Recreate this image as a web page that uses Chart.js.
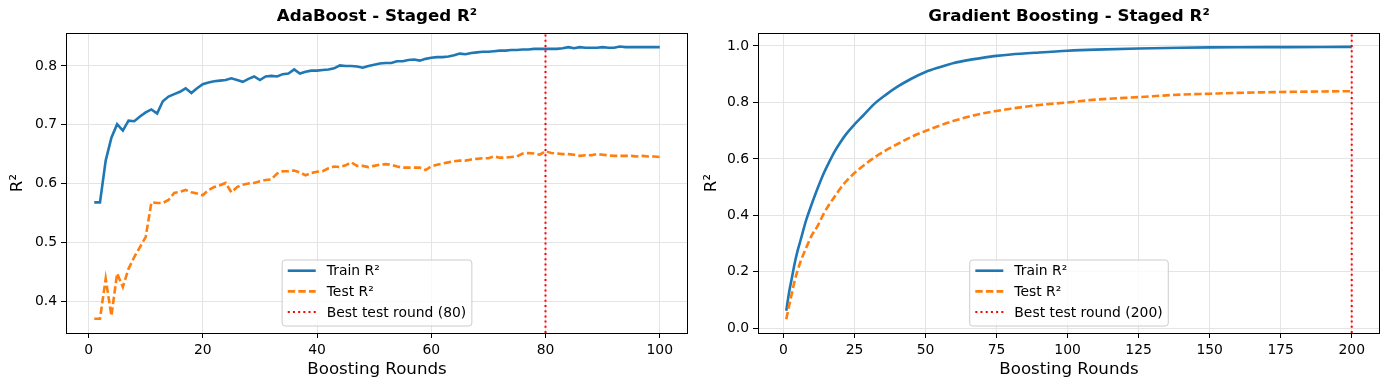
<!DOCTYPE html>
<html>
<head>
<meta charset="utf-8">
<script src="https://cdn.jsdelivr.net/npm/chart.js@4.4.1/dist/chart.umd.min.js"></script>
<style>
  body { margin: 0; background: #fff; }
  canvas { position: absolute; top: 0; }
  #ada { left: 0; }
  #gb { left: 694px; }
</style>
</head>
<body>
<canvas id="ada" width="694" height="390"></canvas>
<canvas id="gb" width="695" height="390"></canvas>
<script>
// AdaBoost staged scores, one per boosting round
const adaRounds = Array.from({ length: 100 }, (_, i) => i + 1)
const adaTrain = [
  0.568, 0.568, 0.639, 0.678, 0.701, 0.690, 0.707, 0.706, 0.714, 0.721,
  0.726, 0.719, 0.740, 0.748, 0.752, 0.756, 0.762, 0.754, 0.762, 0.769,
  0.772, 0.774, 0.775, 0.776, 0.779, 0.776, 0.773, 0.778, 0.782, 0.776,
  0.782, 0.783, 0.782, 0.786, 0.787, 0.794, 0.787, 0.790, 0.792, 0.792,
  0.793, 0.794, 0.796, 0.801, 0.800, 0.800, 0.799, 0.797, 0.800, 0.802,
  0.804, 0.805, 0.805, 0.808, 0.808, 0.810, 0.811, 0.809, 0.812, 0.814,
  0.815, 0.815, 0.816, 0.818, 0.821, 0.820, 0.822, 0.823, 0.824, 0.824,
  0.825, 0.826, 0.826, 0.827, 0.827, 0.828, 0.828, 0.829, 0.829, 0.829,
  0.829, 0.829, 0.830, 0.832, 0.830, 0.832, 0.831, 0.831, 0.831, 0.832,
  0.831, 0.831, 0.833, 0.832, 0.832, 0.832, 0.832, 0.832, 0.832, 0.832
]
const adaTest = [
  0.370, 0.370, 0.438, 0.375, 0.447, 0.424, 0.455, 0.475, 0.492, 0.509,
  0.568, 0.567, 0.567, 0.572, 0.584, 0.586, 0.589, 0.585, 0.583, 0.580,
  0.589, 0.594, 0.597, 0.601, 0.585, 0.594, 0.598, 0.600, 0.601, 0.604,
  0.606, 0.607, 0.617, 0.621, 0.621, 0.622, 0.619, 0.614, 0.618, 0.620,
  0.621, 0.626, 0.629, 0.628, 0.631, 0.636, 0.630, 0.630, 0.628, 0.630,
  0.632, 0.633, 0.632, 0.629, 0.627, 0.627, 0.627, 0.627, 0.623, 0.629,
  0.632, 0.634, 0.636, 0.638, 0.639, 0.639, 0.641, 0.642, 0.643, 0.643,
  0.646, 0.644, 0.644, 0.645, 0.646, 0.651, 0.652, 0.651, 0.649, 0.655,
  0.652, 0.651, 0.650, 0.650, 0.649, 0.647, 0.648, 0.648, 0.650, 0.649,
  0.648, 0.647, 0.647, 0.647, 0.647, 0.646, 0.647, 0.646, 0.646, 0.645
]
const adaBest = 80
const adaXTicks = [0, 20, 40, 60, 80, 100]
const adaYTicks = [0.4, 0.5, 0.6, 0.7, 0.8]
const adaXRange = [-3.95, 104.95]
const adaYRange = [0.3458, 0.856]

// Gradient boosting staged scores, read at selected rounds
const gbRounds = [1, 2, 3, 4, 5, 6, 8, 10, 12, 14, 16, 18, 20, 22, 25, 28, 32, 36, 40, 45,
  50, 55, 60, 65, 70, 75, 80, 90, 100, 110, 125, 140, 150, 160, 175, 190, 200]
const gbTrain = [0.062, 0.128, 0.180, 0.232, 0.275, 0.311, 0.383, 0.441, 0.495, 0.545,
  0.587, 0.626, 0.658, 0.687, 0.722, 0.753, 0.795, 0.827, 0.855, 0.884,
  0.908, 0.925, 0.940, 0.950, 0.958, 0.965, 0.970, 0.977, 0.983, 0.987,
  0.991, 0.994, 0.995, 0.9955, 0.996, 0.9965, 0.997]
const gbTest = [0.032, 0.080, 0.125, 0.170, 0.205, 0.236, 0.285, 0.330, 0.362, 0.403,
  0.437, 0.466, 0.495, 0.520, 0.550, 0.575, 0.605, 0.630, 0.652, 0.678,
  0.699, 0.718, 0.735, 0.749, 0.761, 0.770, 0.778, 0.791, 0.800, 0.810,
  0.819, 0.828, 0.831, 0.834, 0.837, 0.839, 0.840]
const gbBest = 200
const gbXTicks = [0, 25, 50, 75, 100, 125, 150, 175, 200]
const gbYTicks = [0.0, 0.2, 0.4, 0.6, 0.8, 1.0]
const gbXRange = [-8.95, 209.95]
const gbYRange = [-0.0166, 1.046]

const blue = '#1f77b4'
const orange = '#ff7f0e'
const red = '#ff0000'
const font = 'DejaVu Sans'

Chart.defaults.font.family = font
Chart.defaults.color = '#000'

// black frame round the plot area and a matplotlib style legend inside it
const boxLegend = {
  id: 'boxLegend',
  afterDraw(chart) {
    const { ctx, chartArea: a } = chart
    ctx.save()
    ctx.setLineDash([])
    ctx.strokeStyle = '#000'
    ctx.lineWidth = 1
    ctx.strokeRect(Math.round(a.left) + 0.5, Math.round(a.top) + 0.5,
      Math.round(a.right - a.left) - 1, Math.round(a.bottom - a.top))

    const sets = chart.data.datasets
    ctx.font = `13.9px "${font}"`
    let textW = 0
    for (const ds of sets) textW = Math.max(textW, ctx.measureText(ds.label).width)
    const pad = 5.6, handle = 28, gap = 11, rowH = 20.7
    const w = pad + handle + gap + textW + pad
    const h = 66
    const x0 = (a.left + a.right) / 2 - w / 2
    const y0 = a.bottom - 7 - h
    ctx.fillStyle = 'rgba(255,255,255,0.8)'
    ctx.strokeStyle = '#cccccc'
    ctx.beginPath()
    ctx.roundRect(x0, y0, w, h, 3)
    ctx.fill()
    ctx.stroke()
    sets.forEach((ds, i) => {
      const cy = y0 + 10.7 + i * rowH
      ctx.strokeStyle = ds.borderColor
      ctx.lineWidth = ds.borderWidth
      ctx.setLineDash(ds.borderDash || [])
      ctx.beginPath()
      ctx.moveTo(x0 + pad, cy)
      ctx.lineTo(x0 + pad + handle, cy)
      ctx.stroke()
      ctx.setLineDash([])
      ctx.fillStyle = '#000'
      ctx.textBaseline = 'middle'
      ctx.fillText(ds.label, x0 + pad + handle + gap, cy + 1)
    })
    ctx.restore()
  }
}

function pairs(xs, ys) {
  return xs.map((x, i) => ({ x: x, y: ys[i] }))
}

function stagedChart(id, o) {
  const ctx = document.getElementById(id).getContext('2d')
  return new Chart(ctx, {
    type: 'line',
    data: {
      datasets: [
        { label: 'Train R²', data: pairs(o.rounds, o.train), borderColor: blue, borderWidth: 2.6, order: 3,
          cubicInterpolationMode: o.smooth ? 'monotone' : 'default' },
        { label: 'Test R²', data: pairs(o.rounds, o.test), borderColor: orange, borderWidth: 2.6, borderDash: [7.4, 3.2], order: 2,
          cubicInterpolationMode: o.smooth ? 'monotone' : 'default' },
        { label: `Best test round (${o.best})`, data: [{ x: o.best, y: o.yRange[0] }, { x: o.best, y: o.yRange[1] }],
          borderColor: red, borderWidth: 2, borderDash: [2, 3.2], order: 1 }
      ]
    },
    options: {
      responsive: false,
      animation: false,
      devicePixelRatio: 1,
      layout: { padding: { top: 0, right: o.padRight, bottom: 0, left: 0 } },
      elements: { point: { radius: 0 }, line: { tension: 0, fill: false } },
      plugins: {
        legend: { display: false },
        tooltip: { enabled: false },
        title: {
          display: true,
          text: o.title,
          fullSize: false,
          color: '#000',
          font: { size: 16.67, weight: 'bold' },
          padding: { top: 7, bottom: 6 }
        }
      },
      scales: {
        x: {
          type: 'linear',
          min: o.xRange[0],
          max: o.xRange[1],
          afterBuildTicks: s => { s.ticks = o.xTicks.map(v => ({ value: v })) },
          afterFit: s => { s.height = 57 },
          ticks: { font: { size: 13.9 }, padding: 4, maxRotation: 0, callback: v => String(v) },
          grid: { color: '#e4e4e4', lineWidth: 1, tickLength: 5, tickColor: '#000' },
          border: { display: false },
          title: { display: true, text: 'Boosting Rounds', font: { size: 16.67 }, padding: { top: 4, bottom: 10 } }
        },
        y: {
          type: 'linear',
          min: o.yRange[0],
          max: o.yRange[1],
          afterBuildTicks: s => { s.ticks = o.yTicks.map(v => ({ value: v })) },
          afterFit: s => { s.width = o.yWidth },
          ticks: { font: { size: 13.9 }, padding: 4, callback: v => v.toFixed(1) },
          grid: { color: '#e4e4e4', lineWidth: 1, tickLength: 5, tickColor: '#000' },
          border: { display: false },
          title: { display: true, text: 'R²', font: { size: 16.67 }, padding: { top: 8, bottom: 8 } }
        }
      }
    },
    plugins: [boxLegend]
  })
}

stagedChart('ada', {
  title: 'AdaBoost - Staged R²',
  rounds: adaRounds, train: adaTrain, test: adaTest, best: adaBest,
  xTicks: adaXTicks, yTicks: adaYTicks, xRange: adaXRange, yRange: adaYRange,
  yWidth: 66, padRight: 6, smooth: false
})

stagedChart('gb', {
  title: 'Gradient Boosting - Staged R²',
  rounds: gbRounds, train: gbTrain, test: gbTest, best: gbBest,
  xTicks: gbXTicks, yTicks: gbYTicks, xRange: gbXRange, yRange: gbYRange,
  yWidth: 64, padRight: 9, smooth: true
})
</script>
</body>
</html>
